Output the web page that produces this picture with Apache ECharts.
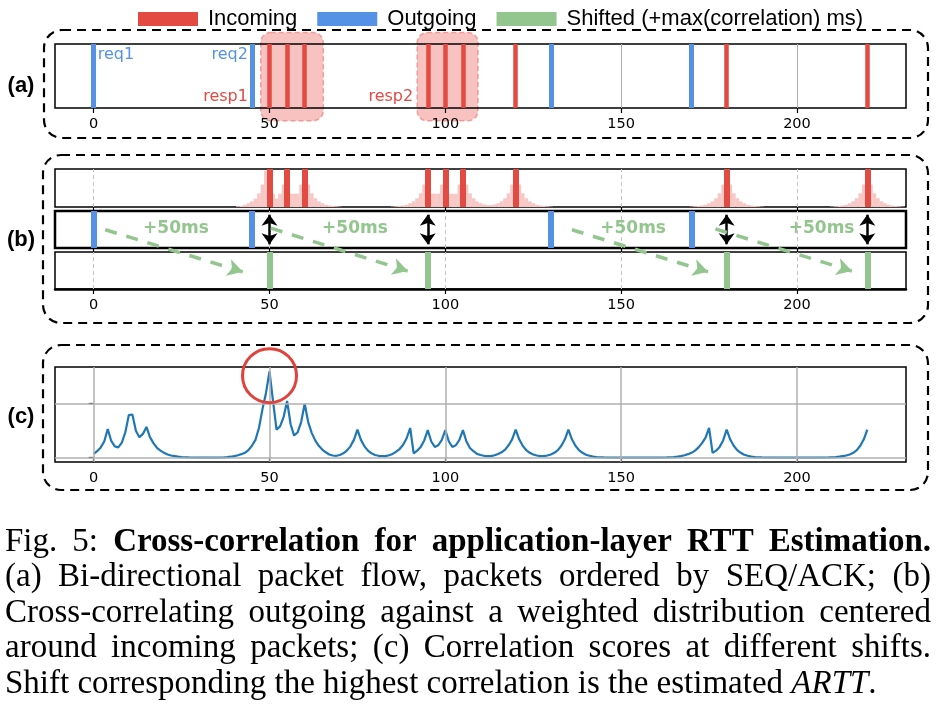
<!DOCTYPE html>
<html><head><meta charset="utf-8">
<script src="https://cdn.jsdelivr.net/npm/echarts@6/dist/echarts.min.js"></script>
<style>html,body{margin:0;padding:0;background:#fff}#c{width:937px;height:705px}</style>
</head><body><div id="c"></div>
<script>
// ---------------- data ----------------
const xTicks = [0, 50, 100, 150, 200];
const incoming = [50, 55, 60, 95, 100, 105, 120, 180, 220];
const outgoing = [0, 45, 130, 170];
const shifted = [50, 95, 180, 220];
const legendNames = ['Incoming', 'Outgoing', 'Shifted (+max(correlation) ms)'];

// weighted distribution around incoming packets (panel b, top row)
const weights = [
  [41,0.02],[42,0.03],[43,0.06],[44,0.10],[45,0.15],[46,0.22],[47,0.36],[48,0.59],[49,0.96],
  [51,0.35],[52,0.22],[53,0.35],[54,0.59],
  [56,0.35],[57,0.35],[58,0.35],[59,0.59],
  [61,0.59],[62,0.36],[63,0.23],[64,0.15],[65,0.10],[66,0.06],[67,0.04],[68,0.03],[69,0.02],[70,0.01],
  [85,0.01],[86,0.02],[87,0.03],[88,0.04],[89,0.06],[90,0.10],[91,0.15],[92,0.23],[93,0.36],[94,0.59],
  [96,0.35],[97,0.35],[98,0.35],[99,0.59],
  [101,0.35],[102,0.35],[103,0.35],[104,0.59],
  [106,0.59],[107,0.36],[108,0.23],[109,0.15],[110,0.10],[111,0.07],[112,0.05],[113,0.05],
  [114,0.07],[115,0.10],[116,0.15],[117,0.23],[118,0.36],[119,0.59],
  [121,0.59],[122,0.36],[123,0.23],[124,0.15],[125,0.10],[126,0.06],[127,0.04],[128,0.03],[129,0.02],[130,0.01],
  [170,0.01],[171,0.02],[172,0.03],[173,0.04],[174,0.06],[175,0.10],[176,0.15],[177,0.23],[178,0.36],[179,0.59],
  [181,0.59],[182,0.36],[183,0.23],[184,0.15],[185,0.10],[186,0.06],[187,0.04],[188,0.03],[189,0.02],[190,0.01],
  [210,0.01],[211,0.02],[212,0.03],[213,0.04],[214,0.06],[215,0.10],[216,0.15],[217,0.23],[218,0.36],[219,0.59],
  [221,0.59],[222,0.36],[223,0.23],[224,0.15],[225,0.10],[226,0.06],[227,0.04],[228,0.03],[229,0.02],[230,0.01]
];

// correlation score per shift (panel c)
const corr = [
  [0,0.07],[1,0.12],[2,0.19],[3,0.30],[4,0.53],[5,0.31],[6,0.21],[7,0.19],[8,0.28],[9,0.47],
  [10,0.79],[11,0.80],[12,0.50],[13,0.38],[14,0.44],[15,0.57],[16,0.38],[17,0.27],[18,0.18],[19,0.13],
  [20,0.09],[21,0.06],[22,0.04],[23,0.03],[24,0.02],[25,0.012],[27,0.006],[30,0.002],[35,0.002],[37,0.005],
  [38,0.01],[39,0.018],[40,0.03],[41,0.045],[42,0.065],[43,0.09],[44,0.14],[45,0.22],[46,0.33],[47,0.55],
  [48,0.90],[49,1.20],[50,1.60],[51,1.05],[52,0.52],[53,0.58],[54,0.75],[55,1.05],[56,0.62],[57,0.41],
  [58,0.47],[59,0.66],[60,1.00],[61,0.66],[62,0.46],[63,0.32],[64,0.22],[65,0.15],[66,0.10],[67,0.06],
  [68,0.04],[69,0.035],[70,0.05],[71,0.08],[72,0.13],[73,0.21],[74,0.33],[75,0.52],[76,0.33],[77,0.21],
  [78,0.13],[79,0.08],[80,0.05],[81,0.035],[82,0.03],[83,0.03],[84,0.045],[85,0.07],[86,0.11],[87,0.16],
  [88,0.24],[89,0.36],[90,0.55],[91,0.08],[92,0.13],[93,0.20],[94,0.32],[95,0.51],[96,0.30],[97,0.20],
  [98,0.23],[99,0.33],[100,0.51],[101,0.30],[102,0.20],[103,0.23],[104,0.33],[105,0.51],[106,0.30],[107,0.18],
  [108,0.12],[109,0.07],[110,0.05],[111,0.035],[112,0.03],[113,0.03],[114,0.045],[115,0.07],[116,0.10],[117,0.15],
  [118,0.23],[119,0.34],[120,0.52],[121,0.34],[122,0.22],[123,0.14],[124,0.09],[125,0.06],[126,0.04],[127,0.03],
  [128,0.03],[129,0.04],[130,0.06],[131,0.09],[132,0.14],[133,0.22],[134,0.34],[135,0.52],[136,0.34],[137,0.22],
  [138,0.14],[139,0.09],[140,0.055],[141,0.035],[142,0.02],[143,0.012],[145,0.006],[148,0.002],[160,0.002],[163,0.005],
  [165,0.012],[166,0.02],[167,0.03],[168,0.045],[169,0.065],[170,0.09],[171,0.13],[172,0.19],[173,0.27],[174,0.37],
  [175,0.55],[176,0.09],[177,0.13],[178,0.20],[179,0.32],[180,0.52],[181,0.34],[182,0.22],[183,0.14],[184,0.09],
  [185,0.055],[186,0.035],[187,0.02],[188,0.012],[190,0.006],[193,0.002],[207,0.002],[209,0.006],[211,0.012],[212,0.02],
  [213,0.03],[214,0.04],[215,0.06],[216,0.09],[217,0.14],[218,0.22],[219,0.34],[220,0.52]
];
const corrYTicks = [0, 1];
const bestShift = [50, 1.52];           // circled maximum

// annotations
const highlightRanges = [[47.5, 65.3], [92, 109.3]];
const reqLabels = [{text:'req1', x:0, side:'right'}, {text:'req2', x:45, side:'left'}];
const respLabels = [{text:'resp1', x:45, side:'left'}, {text:'resp2', x:92, side:'left'}];
const shiftArrows = [
  {from:[3.3,0.76], to:[42.4,0.22]},
  {from:[50.4,0.78], to:[89.3,0.23]},
  {from:[136,0.76], to:[174.7,0.22]},
  {from:[176.8,0.77], to:[215.6,0.23]}
];
const shiftLabelText = '+50ms';
const shiftLabels = [[23.4,0.78],[74.3,0.78],[153.4,0.78],[207,0.78]];

// caption (each word = list of [text, style])
const captionLines = [
  {justify:true, words:[[['Fig.','n']],[['5:','n']],[['Cross-correlation','b']],[['for','b']],[['application-layer','b']],[['RTT','b']],[['Estimation.','b']]]},
  {justify:true, text:'(a) Bi-directional packet flow, packets ordered by SEQ/ACK; (b)'},
  {justify:true, text:'Cross-correlating outgoing against a weighted distribution centered'},
  {justify:true, text:'around incoming packets; (c) Correlation scores at different shifts.'},
  {justify:false, words:'Shift corresponding the highest correlation is the estimated'.split(' ').map(w=>[[w,'n']]).concat([[['ARTT','i'],['.','n']]])}
];

// ---------------- styles ----------------
const RED = '#e24a42', BLUE = '#5592e6', GREEN = '#93c68e', PINK = '#f7c8c6';
const LINEC = '#1f77b4', GRIDC = '#b0b0b0';
const XMIN = -11, XMAX = 231;
const TICKFONT = {fontSize:14.5, color:'#000', fontFamily:'DejaVu Sans', margin:9};

const grids = [
  {left:55, right:31, top:44, height:64, show:true, borderColor:'#000', borderWidth:1.5},   // a
  {left:55, right:31, top:169, height:38, show:true, borderColor:'#000', borderWidth:1.5},  // b top
  {left:55, right:31, top:211, height:37, show:true, borderColor:'#000', borderWidth:2.5},  // b mid
  {left:55, right:31, top:252, height:37, show:true, borderColor:'#000', borderWidth:1.5},  // b bottom
  {left:55, right:31, top:211, height:78, show:false},                                       // b overlay
  {left:55, right:31, top:367, height:95, show:true, borderColor:'#000', borderWidth:1.5}   // c
];
function xAx(i, labels, tickLen, lineW) {
  return {
    type:'value', gridIndex:i, min:XMIN, max:XMAX, show: i !== 4,
    axisLine:{show: !!lineW, lineStyle:{color:'#000', width: lineW || 1}},
    axisTick:{show: tickLen > 0, customValues:xTicks, length:tickLen, inside:false, lineStyle:{color:'#000', width:1.2}},
    axisLabel:Object.assign({show:labels, customValues:xTicks}, TICKFONT),
    splitLine:{show:false}
  };
}
function yAx(i, min, max) {
  return {type:'value', gridIndex:i, min:min, max:max, show:false, splitLine:{show:false}};
}
const xAxes = [xAx(0,true,5), xAx(1,false,4), xAx(2,false,4), xAx(3,true,5,2.5), xAx(4,false,0), xAx(5,true,5)];
const yAxes = [yAx(0,0,1), yAx(1,0,1), yAx(2,0,1), yAx(3,0,1), yAx(4,0,1),
  {type:'value', gridIndex:5, min:-0.08, max:1.68, show:true,
   axisLine:{show:false}, axisTick:{show:true, customValues:corrYTicks, length:5, lineStyle:{color:'#000', width:1.2}},
   axisLabel:{show:false, customValues:corrYTicks}, splitLine:{show:false}}];

function vLines(axisIdx, values, color, width, type, z, name) {
  return {
    type:'scatter', name:name || ('_v' + axisIdx + '_' + color + width), xAxisIndex:axisIdx, yAxisIndex:axisIdx,
    data:[], z:z, silent:true, itemStyle:{color:color, opacity:1},
    markLine:{silent:true, symbol:'none', animation:false, label:{show:false}, emphasis:{disabled:true},
      lineStyle:{color:color, width:width, type:type || 'solid', opacity:1},
      data: values.map(v => ({xAxis:v}))}
  };
}
function textPoints(axisIdx, items, y, color, z) {
  return {
    type:'scatter', xAxisIndex:axisIdx, yAxisIndex:axisIdx, symbolSize:0, silent:true, z:z,
    itemStyle:{opacity:1},
    data: items.map(it => ({value:[it.x, y], name:it.text,
      label:{show:true, position: it.side, distance:4, formatter:'{b}', color:color, fontSize:16, fontFamily:'DejaVu Sans'}}))
  };
}

const series = [
  // panel (a)
  vLines(0, xTicks, GRIDC, 1, 'solid', 1),
  vLines(0, incoming, RED, 4.5, 'solid', 3, legendNames[0]),
  vLines(0, outgoing, BLUE, 5, 'solid', 3, legendNames[1]),
  textPoints(0, reqLabels, 0.83, BLUE, 4),
  textPoints(0, respLabels, 0.17, RED, 4),
  // panel (b)
  vLines(1, xTicks, '#c4c4c4', 1, [4,3], 1),
  vLines(2, xTicks, '#c4c4c4', 1, [4,3], 1),
  vLines(3, xTicks, '#c4c4c4', 1, [4,3], 1),
  {type:'bar', xAxisIndex:1, yAxisIndex:1, data:weights, barWidth:3.8, silent:true, z:2,
   itemStyle:{color:PINK}},
  vLines(1, incoming, RED, 6, 'solid', 3, legendNames[0]),
  vLines(2, outgoing, BLUE, 6, 'solid', 3, legendNames[1]),
  vLines(3, shifted, GREEN, 6, 'solid', 3, legendNames[2]),
  {type:'scatter', xAxisIndex:2, yAxisIndex:2, data:[], z:5, silent:true,
   markLine:{silent:true, symbol:['arrow','arrow'], symbolSize:[12,11], label:{show:false}, animation:false,
     lineStyle:{color:'#000', width:2.5, type:'solid', opacity:1},
     data: shifted.map(v => [{coord:[v,0.1]},{coord:[v,0.9]}])}},
  {type:'scatter', xAxisIndex:4, yAxisIndex:4, data:[], z:5, silent:true,
   markLine:{silent:true, symbol:['none','arrow'], symbolSize:[13,15], label:{show:false}, animation:false,
     lineStyle:{color:GREEN, width:3.5, type:[12,10], opacity:1},
     data: shiftArrows.map(a => [{coord:a.from},{coord:a.to}])}},
  {type:'scatter', xAxisIndex:4, yAxisIndex:4, symbolSize:0, silent:true, z:6, itemStyle:{opacity:1},
   data: shiftLabels.map(p => ({value:p})),
   label:{show:true, position:'inside', formatter:shiftLabelText, color:GREEN, fontSize:17, fontWeight:'bold', fontFamily:'DejaVu Sans'}},
  // panel (c)
  vLines(5, xTicks, GRIDC, 1.5, 'solid', 1),
  {type:'scatter', xAxisIndex:5, yAxisIndex:5, data:[], z:1, silent:true,
   markLine:{silent:true, symbol:'none', label:{show:false}, animation:false,
     lineStyle:{color:GRIDC, width:1.5, type:'solid', opacity:1}, data: corrYTicks.map(v => ({yAxis:v}))}},
  {type:'line', xAxisIndex:5, yAxisIndex:5, data:corr, showSymbol:false, symbol:'none', z:3, silent:true,
   lineStyle:{color:LINEC, width:2.2}, itemStyle:{color:LINEC},
   markPoint:{silent:true, symbol:'circle', symbolSize:54, label:{show:false}, animation:false,
     itemStyle:{color:'rgba(0,0,0,0)', borderColor:'#e0433c', borderWidth:3},
     data:[{coord:bestShift}]}}
];

const chart = echarts.init(document.getElementById('c'), null, {renderer:'canvas', width:937, height:705});
chart.setOption({
  animation:false,
  backgroundColor:'#fff',
  legend:{data:legendNames, left:133, top:3, icon:'rect', itemWidth:60, itemHeight:14, itemGap:20,
    selectedMode:false, itemStyle:{opacity:1},
    textStyle:{fontSize:22, fontFamily:'Liberation Sans', color:'#000', padding:[0,0,0,5]}},
  grid:grids, xAxis:xAxes, yAxis:yAxes, series:series
});

// ---------------- graphic overlays ----------------
const g = [];
// dashed panel frames
[[44,30,884,108],[43,155,885,168],[43,345,885,145]].forEach(b => g.push({
  type:'rect', shape:{x:b[0], y:b[1], width:b[2], height:b[3], r:18}, z:0, silent:true,
  style:{fill:'none', stroke:'#000', lineWidth:2.2, lineDash:[9,6]}}));
// panel labels
[['(a)',86],['(b)',240],['(c)',417]].forEach(l => g.push({
  type:'text', x:21, y:l[1], z:10, silent:true,
  style:{text:l[0], font:'bold 22px "Liberation Sans"', fill:'#000', align:'center', verticalAlign:'middle'}}));
// highlight boxes in (a), positioned through the axes (drawn beneath the packet bars)
highlightRanges.forEach(r => {
  const p0 = chart.convertToPixel({xAxisIndex:0, yAxisIndex:0}, [r[0], 1.18]);
  const p1 = chart.convertToPixel({xAxisIndex:0, yAxisIndex:0}, [r[1], -0.2]);
  g.push({type:'rect', z:-1, silent:true,
    shape:{x:p0[0], y:p0[1], width:p1[0]-p0[0], height:p1[1]-p0[1], r:10},
    style:{fill:'rgba(238,120,116,0.45)', stroke:'rgba(236,110,106,0.6)', lineWidth:1.5, lineDash:[5,3]}});
});
// caption
const cv = document.createElement('canvas').getContext('2d');
function fontOf(st) { return (st==='b'?'bold ':'') + (st==='i'?'italic ':'') + '33px "Liberation Serif"'; }
function mw(t, st) { cv.font = fontOf(st); return cv.measureText(t).width; }
const lineY = [542, 577.5, 613, 648.5, 684];
const X0 = 5, X1 = 931;
captionLines.forEach((ln, i) => {
  const words = ln.words || ln.text.split(' ').map(w => [[w,'n']]);
  const ws = words.map(w => w.reduce((s, seg) => s + mw(seg[0], seg[1]), 0));
  const total = ws.reduce((a,b) => a+b, 0);
  const gap = ln.justify ? (X1 - X0 - total) / (words.length - 1) : mw(' ', 'n');
  let x = X0;
  words.forEach((w, k) => {
    w.forEach(seg => {
      g.push({type:'text', x:x, y:lineY[i], silent:true,
        style:{text:seg[0], font:fontOf(seg[1]), fill:'#000', align:'left', verticalAlign:'middle'}});
      x += mw(seg[0], seg[1]);
    });
    x += gap;
  });
});
chart.setOption({graphic:{elements:g}});
</script>
</body></html>
